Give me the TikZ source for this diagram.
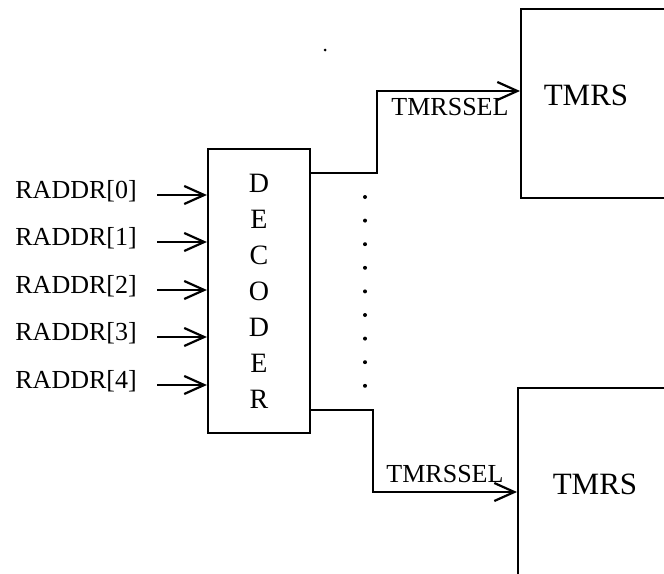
\documentclass[tikz,border=0pt]{standalone}
\usepackage{fontspec}
\setmainfont{Liberation Serif}
\usetikzlibrary{arrows.meta,positioning}

\begin{document}
\begin{tikzpicture}[x=0.5pt,y=-0.5pt,
        sig/.style={line width=1.1pt,-{Straight Barb[length=10pt,width=9pt]}},
        lbl/.style={inner sep=0pt,font=\fontsize{13}{14}\selectfont},
        big/.style={inner sep=0pt,font=\fontsize{15.5}{16}\selectfont},
        blk/.style={draw,line width=1.1pt,inner sep=0pt}]
                \clip (0,0) rectangle (664,573);
                \node[blk,minimum width=51pt,minimum height=142pt,align=center,
                      font=\fontsize{14}{18}\selectfont] (dec) at (259,291) {D\\E\\C\\O\\D\\E\\R};
                \foreach \i/\y in {0/195,1/242,2/290,3/337,4/385} {
                    \node[lbl,anchor=base west] (raddr\i) at (15,\y+3) {RADDR[\i]};
                    \coordinate (in\i) at (157,\y);
                    \draw[sig] (in\i) -- (in\i -| dec.west);
                }
                \node[blk,minimum width=120pt,minimum height=94.5pt,anchor=north west] (tmrsA) at (520,8) {};
                \node[big] (tmrsAtxt) at (586,95) {TMRS};
                \node[blk,minimum width=120pt,minimum height=120pt,anchor=north west] (tmrsB) at (517,387) {};
                \node[big] (tmrsBtxt) at (595,484) {TMRS};
                \coordinate (outA) at (377,173);
                \coordinate (bendA) at (377,91);
                \coordinate (outB) at (373,410);
                \coordinate (bendB) at (373,492);
                \draw[sig] (dec.east |- outA) -- (outA) -- (bendA) -- (bendA -| tmrsA.west);
                \draw[sig] (dec.east |- outB) -- (outB) -- (bendB) -- (bendB -| tmrsB.west);
                \node[lbl] (selAtxt) at (450,107) {TMRSSEL};
                \node[lbl] (selBtxt) at (445,474) {TMRSSEL};
                \foreach \i in {0,...,8}
                    \fill (365,197+23.6*\i) circle (2);
                \fill (325,50) circle (1.5);
\end{tikzpicture}
\end{document}
